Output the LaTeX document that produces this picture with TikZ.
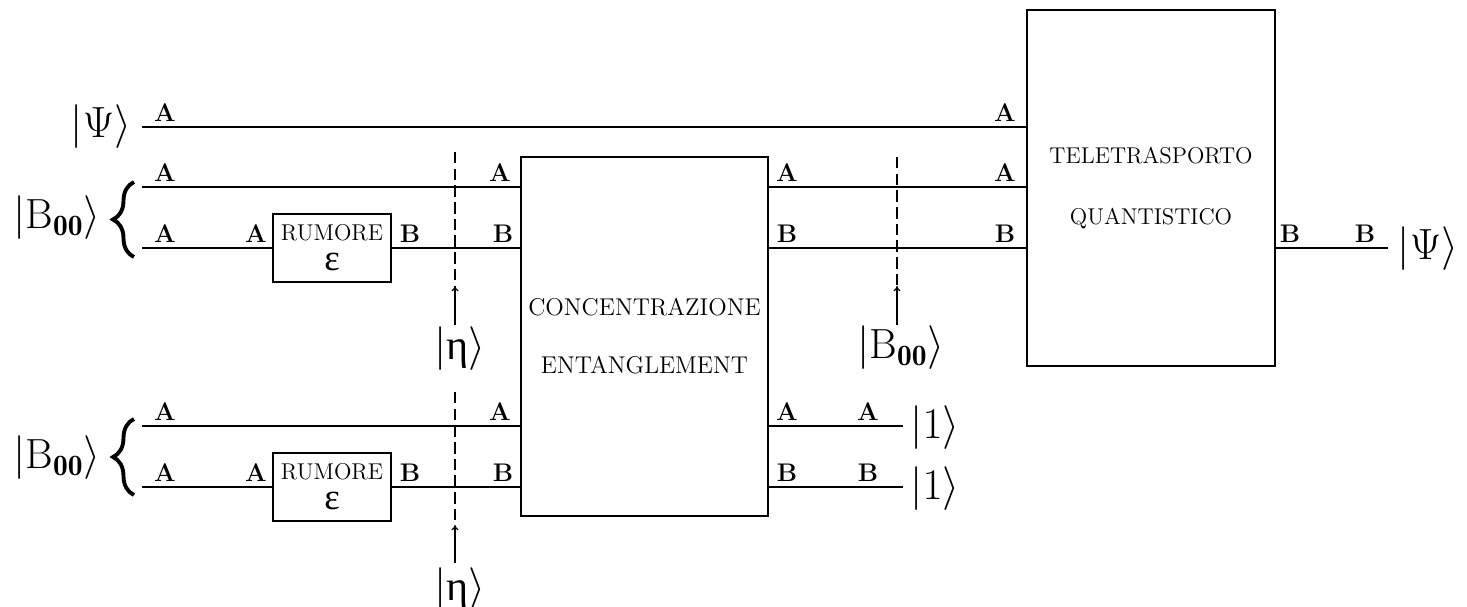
\documentclass[tikz,border=0pt]{standalone}
\usepackage{amsmath}
\usepackage{fontspec}
\newfontfamily\greco{Liberation Serif}
\usetikzlibrary{positioning, decorations.pathreplacing, arrows.meta}

\tikzset{
  filo/.style={line width=1.1pt},
  blocco/.style={draw, line width=1.1pt, inner sep=0pt, align=center},
  etichetta/.style={font=\fontsize{14.5}{16}\selectfont\bfseries, inner sep=1pt, anchor=south},
  ket/.style={font=\fontsize{24}{28}\selectfont, inner sep=0pt},
  misura/.style={dash pattern=on 6.5pt off 3pt, line width=0.7pt},
  freccia/.style={-{To[length=3pt,width=4pt]}, line width=0.7pt},
  graffa/.style={decorate, decoration={brace, amplitude=0.42cm}, line width=2.2pt},
}

\begin{document}
\begin{tikzpicture}[x=0.02cm, y=-0.02cm]
    \useasboundingbox (0,0) rectangle (1467,606);

    % Blocchi
    \node[blocco, minimum width=2.36cm, minimum height=1.36cm,
          font=\fontsize{13}{17}\selectfont] (rum1) at (332,248)
          {RUMORE\\{\fontsize{21}{17}\selectfont\greco ε}};
    \node[blocco, minimum width=2.36cm, minimum height=1.36cm,
          font=\fontsize{13}{17}\selectfont] (rum2) at (332,487)
          {RUMORE\\{\fontsize{21}{17}\selectfont\greco ε}};
    \node[blocco, minimum width=4.94cm, minimum height=7.18cm,
          font=\fontsize{13.8}{33}\selectfont] (conc) at (644.5,336.5)
          {CONCENTRAZIONE\\ENTANGLEMENT};
    \node[blocco, minimum width=4.96cm, minimum height=7.12cm,
          font=\fontsize{13}{35}\selectfont] (tele) at (1151,188)
          {TELETRASPORTO\\QUANTISTICO};

    % Estremi dei fili
    \coordinate (psiIn) at (142,127);
    \coordinate (a1In) at (142,187);
    \coordinate (b1In) at (142,248);
    \coordinate (a2In) at (142,426);
    \coordinate (b2In) at (142,487);
    \coordinate (uno1) at (903,426);
    \coordinate (uno2) at (903,487);
    \coordinate (psiOut) at (1388,248);

    % Fili
    \draw[filo] (psiIn) -- (psiIn -| tele.west);
    \draw[filo] (a1In) -- (a1In -| conc.west);
    \draw[filo] (b1In) -- (rum1.west);
    \draw[filo] (rum1.east) -- (rum1.east -| conc.west);
    \draw[filo] (conc.east |- a1In) -- (tele.west |- a1In);
    \draw[filo] (conc.east |- b1In) -- (tele.west |- b1In);
    \draw[filo] (tele.east |- b1In) -- (psiOut);
    \draw[filo] (a2In) -- (a2In -| conc.west);
    \draw[filo] (b2In) -- (rum2.west);
    \draw[filo] (rum2.east) -- (rum2.east -| conc.west);
    \draw[filo] (conc.east |- a2In) -- (uno1);
    \draw[filo] (conc.east |- b2In) -- (uno2);

    % Etichette A / B sui fili
    \foreach \x/\y/\t in {165/127/A, 1005/127/A,
        165/187/A, 500/187/A, 787/187/A, 1005/187/A,
        165/248/A, 256/248/A, 410/248/B, 503/248/B, 787/248/B, 1005/248/B,
        1290/248/B, 1365/248/B,
        165/426/A, 500/426/A, 787/426/A, 868/426/A,
        165/487/A, 256/487/A, 410/487/B, 503/487/B, 787/487/B, 868/487/B}
        \node[etichetta] (l-\x-\y) at (\x,\y-3) {\t};

    % Stati in ingresso e in uscita
    \node[ket] (psiSx) at (101,127) {$|\Psi\rangle$};
    \node[ket] (bell1) at (57,218) {$|\mathrm{B}_{\mathbf{00}}\rangle$};
    \node[ket] (bell2) at (57,458) {$|\mathrm{B}_{\mathbf{00}}\rangle$};
    \node[ket] (psiDx) at (1428,249) {$|\Psi\rangle$};
    \node[ket] (uno1k) at (935,428) {$|1\rangle$};
    \node[ket] (uno2k) at (935,489) {$|1\rangle$};

    % Parentesi graffe
    \draw[graffa] (134,257) -- (134,182);
    \draw[graffa] (134,495) -- (134,419);

    % Linee di misura
    \coordinate (m1top) at (455,152);
    \coordinate (m1bot) at (455,286);
    \coordinate (m2top) at (455,392);
    \coordinate (m2bot) at (455,525);
    \coordinate (m3top) at (897,157);
    \coordinate (m3bot) at (897,286);

    \node[ket] (eta1) at (460,349) {$|\text{\greco η}\rangle$};
    \node[ket] (eta2) at (460,590) {$|\text{\greco η}\rangle$};
    \node[ket] (bell3) at (901,348) {$|\mathrm{B}_{\mathbf{00}}\rangle$};

    \draw[misura] (m1top) -- (m1bot);
    \draw[misura] (m2top) -- (m2bot);
    \draw[misura] (m3top) -- (m3bot);
    \draw[freccia] (455,325) -- (m1bot);
    \draw[freccia] (455,563) -- (m2bot);
    \draw[freccia] (897,325) -- (m3bot);

\end{tikzpicture}
\end{document}
